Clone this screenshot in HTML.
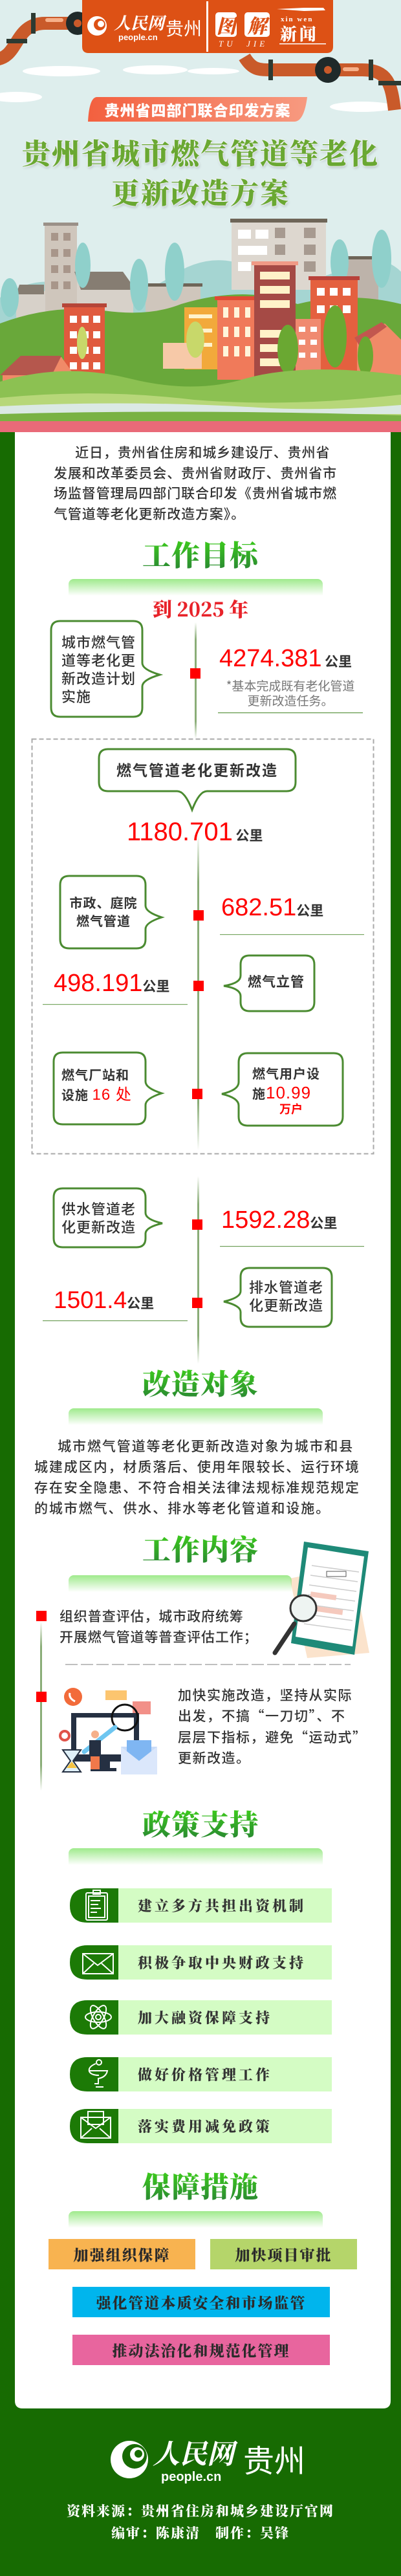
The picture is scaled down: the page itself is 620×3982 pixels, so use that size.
<!DOCTYPE html>
<html><head><meta charset="utf-8">
<style>
*{margin:0;padding:0;box-sizing:border-box}
body{width:620px;height:3982px;overflow:hidden;position:relative;background:#176b02;font-family:"Liberation Sans","Noto Sans CJK SC",sans-serif}
.a{position:absolute;white-space:nowrap}
.t{font-family:"Noto Sans CJK SC",sans-serif;color:#333;font-weight:500}
.h{font-family:"Noto Serif CJK SC",serif;font-weight:900;font-size:44px;letter-spacing:1px;width:620px;left:0;text-align:center;line-height:50px;background:linear-gradient(#3fd21a,#2a8a32);-webkit-background-clip:text;background-clip:text;color:transparent}
.gb{position:absolute;left:106px;width:393px;height:26px;border-radius:8px 8px 0 0;background:linear-gradient(#9fea8c,rgba(255,255,255,0))}
.n{font-family:"Liberation Sans",sans-serif;color:#f00;font-size:38px}
.km{font-family:"Noto Sans CJK SC",sans-serif;color:#333;font-size:21px;font-weight:700}
.bt{font-family:"Noto Sans CJK SC",sans-serif;color:#333;font-size:21px;font-weight:500;line-height:28px}
.pl{font-family:"Noto Serif CJK SC",serif;font-weight:900;font-size:22px;letter-spacing:4px;color:#333;line-height:53px}
.bx{position:absolute;font-family:"Noto Serif CJK SC",serif;font-weight:900;font-size:23px;letter-spacing:2px;color:#2b2b2b;text-align:center}
</style></head><body>

<svg class="a" style="left:0;top:0" width="620" height="3982" viewBox="0 0 620 3982">
<defs>
<linearGradient id="vl" x1="0" y1="0" x2="0" y2="1"><stop offset="0" stop-color="#8aad77" stop-opacity="0"/><stop offset=".15" stop-color="#8aad77"/><stop offset=".85" stop-color="#8aad77"/><stop offset="1" stop-color="#8aad77" stop-opacity="0"/></linearGradient>
<linearGradient id="pill" x1="0" y1="0" x2="1" y2="0"><stop offset="0" stop-color="#f3603f"/><stop offset="1" stop-color="#f79a80"/></linearGradient>
</defs>
<!-- header background -->
<rect x="0" y="0" width="620" height="651" fill="#deeeed"/>
<g fill="#fff">
<ellipse cx="95" cy="110" rx="60" ry="8"/><ellipse cx="240" cy="108" rx="50" ry="7"/><ellipse cx="330" cy="110" rx="40" ry="5"/>
<ellipse cx="25" cy="150" rx="40" ry="8"/><ellipse cx="560" cy="165" rx="50" ry="8"/>
</g>
<!-- pipes -->
<g fill="none" stroke="#c95a2a" stroke-width="20">
<path d="M-10,92 C30,92 20,36 70,36 L130,36"/>
<path d="M378,88 C390,108 400,108 420,108 L560,108 C600,108 605,130 610,170"/>
</g>
<g fill="#2d3a32"><rect x="48" y="20" width="7" height="32"/><rect x="10" y="60" width="32" height="7"/><rect x="415" y="92" width="7" height="32"/><rect x="570" y="92" width="7" height="32"/><rect x="585" y="125" width="35" height="7"/></g>
<circle cx="120" cy="36" r="18" fill="#1f2a2a"/><circle cx="120" cy="36" r="6" fill="#c95a2a"/>
<circle cx="507" cy="108" r="20" fill="#1f2a2a"/><circle cx="507" cy="108" r="6" fill="#c95a2a"/>
<rect x="530" y="104" width="25" height="6" fill="#f6b08a" rx="3"/><rect x="70" y="28" width="28" height="6" fill="#f6b08a" rx="3"/>
<!-- banner -->
<path d="M127,0 H515 V72 Q515,82 505,82 H137 Q127,82 127,72Z" fill="#dd5115"/>
<circle cx="150" cy="40" r="15" fill="#fff"/><circle cx="154" cy="38" r="9" fill="#dd5115"/><circle cx="156" cy="37" r="5" fill="#fff"/>
<rect x="319" y="2" width="3" height="78" fill="#fff"/>
<rect x="333" y="19" width="33" height="38" rx="5" fill="#fff"/><rect x="378" y="19" width="39" height="38" rx="5" fill="#fff"/>
<rect x="432" y="67" width="72" height="1.5" fill="#fff"/>
<path d="M428,14 L470,12 L500,12 L503,16 L470,17Z" fill="#fff"/>
<!-- subtitle pill -->
<path d="M150,150 H475 Q470,188 455,188 H136 Q138,150 150,150Z" fill="url(#pill)"/>
<!-- city -->
<g>
<path d="M0,460 Q60,420 120,445 Q200,470 260,430 Q330,380 400,420 Q470,450 540,410 Q590,390 620,420 V651 H0Z" fill="#7ec5bf" opacity=".6"/>
<rect x="69" y="348" width="50" height="160" fill="#cfc6bc"/><rect x="67" y="344" width="54" height="5" fill="#9a9088"/>
<g fill="#a8968a"><rect x="79" y="360" width="11" height="12"/><rect x="98" y="360" width="11" height="12"/><rect x="79" y="385" width="11" height="12"/><rect x="98" y="385" width="11" height="12"/><rect x="79" y="410" width="11" height="12"/><rect x="98" y="410" width="11" height="12"/><rect x="79" y="435" width="11" height="12"/><rect x="98" y="435" width="11" height="12"/></g>
<rect x="358" y="343" width="146" height="105" fill="#ddd7cf"/><rect x="356" y="338" width="150" height="6" fill="#6e6558"/>
<g fill="#a79a90"><rect x="425" y="352" width="16" height="16"/><rect x="470" y="352" width="18" height="16"/><rect x="425" y="378" width="16" height="16"/><rect x="470" y="378" width="18" height="16"/><rect x="470" y="404" width="18" height="16"/></g>
<g fill="#fff"><rect x="368" y="355" width="20" height="14"/><rect x="395" y="355" width="20" height="14"/><rect x="368" y="380" width="45" height="14"/><rect x="368" y="405" width="20" height="14"/></g>
<rect x="526" y="400" width="59" height="70" fill="#bdb3aa"/><rect x="524" y="396" width="63" height="5" fill="#6e6558"/>
<path d="M119,420 H190 L206,445 V495 H119Z" fill="#d7d1c9"/><path d="M115,420 H190 L210,448 H125Z" fill="#867d72"/>
<path d="M25,450 H70 V500 H25Z" fill="#d7d1c9"/><path d="M30,440 H68 V455 H25Z" fill="#867d72"/>
<rect x="225" y="442" width="85" height="40" fill="#cfc6bc"/><rect x="223" y="438" width="90" height="5" fill="#6e6558"/>
<path d="M0,500 Q80,470 160,480 Q230,490 280,470 Q380,440 460,470 Q540,450 620,470 V651 H0Z" fill="#69a83a"/>
<g fill="#8fd0cb"><ellipse cx="15" cy="460" rx="14" ry="30"/><ellipse cx="128" cy="410" rx="12" ry="35"/><ellipse cx="215" cy="440" rx="14" ry="40"/><ellipse cx="270" cy="420" rx="15" ry="45"/><ellipse cx="590" cy="400" rx="15" ry="45"/><ellipse cx="525" cy="405" rx="14" ry="35"/></g>
<rect x="285" y="475" width="51" height="96" fill="#f2a93b"/><g fill="#fff2cc"><rect x="292" y="486" width="36" height="6"/><rect x="292" y="508" width="36" height="6"/><rect x="292" y="530" width="36" height="6"/></g>
<rect x="336" y="462" width="59" height="125" fill="#f07a5a"/><rect x="332" y="458" width="66" height="6" fill="#e04a35"/>
<g fill="#fff5da"><rect x="345" y="475" width="8" height="16"/><rect x="362" y="475" width="8" height="16"/><rect x="379" y="475" width="8" height="16"/><rect x="345" y="505" width="8" height="16"/><rect x="362" y="505" width="8" height="16"/><rect x="379" y="505" width="8" height="16"/><rect x="345" y="535" width="8" height="16"/><rect x="362" y="535" width="8" height="16"/><rect x="379" y="535" width="8" height="16"/></g>
<rect x="393" y="408" width="64" height="180" fill="#a54a45"/><rect x="389" y="404" width="72" height="6" fill="#f09a86"/>
<g fill="#fff2c8"><rect x="402" y="420" width="46" height="12"/><rect x="402" y="442" width="46" height="12"/><rect x="402" y="464" width="46" height="12"/><rect x="402" y="510" width="46" height="12"/><rect x="402" y="532" width="46" height="12"/><rect x="402" y="554" width="46" height="12"/></g>
<rect x="480" y="431" width="73" height="170" fill="#e4603f"/><rect x="477" y="427" width="79" height="6" fill="#b8413a"/>
<g fill="#fff"><rect x="490" y="445" width="12" height="12"/><rect x="510" y="445" width="12" height="12"/><rect x="530" y="445" width="12" height="12"/><rect x="490" y="472" width="12" height="12"/><rect x="510" y="472" width="12" height="12"/><rect x="530" y="472" width="12" height="12"/></g>
<rect x="457" y="493" width="39" height="110" fill="#f08a70"/>
<g fill="#fff"><rect x="462" y="505" width="10" height="8"/><rect x="480" y="505" width="10" height="8"/><rect x="462" y="525" width="10" height="8"/><rect x="480" y="525" width="10" height="8"/><rect x="462" y="545" width="10" height="8"/><rect x="480" y="545" width="10" height="8"/></g>
<path d="M552,520 L595,500 L620,525 V594 H552Z" fill="#f08a68"/><path d="M548,522 L590,498 L598,505 L556,535Z" fill="#c2574f"/>
<rect x="99" y="473" width="63" height="145" fill="#e05a3e"/><rect x="96" y="469" width="69" height="6" fill="#b54538"/>
<g fill="#fff"><rect x="108" y="488" width="11" height="11"/><rect x="126" y="488" width="11" height="11"/><rect x="144" y="488" width="11" height="11"/><rect x="108" y="512" width="11" height="11"/><rect x="126" y="512" width="11" height="11"/><rect x="144" y="512" width="11" height="11"/><rect x="108" y="536" width="11" height="11"/><rect x="126" y="536" width="11" height="11"/><rect x="144" y="536" width="11" height="11"/><rect x="108" y="560" width="11" height="11"/><rect x="126" y="560" width="11" height="11"/><rect x="144" y="560" width="11" height="11"/></g>
<path d="M4,580 L35,552 H95 L115,580 V612 H4Z" fill="#f08a68"/><path d="M0,580 L32,550 H95 L80,580Z" fill="#b5574d"/>
<rect x="252" y="530" width="60" height="40" fill="#f7c9a8"/>
<g fill="#6aa832"><ellipse cx="445" cy="540" rx="16" ry="38"/><ellipse cx="518" cy="520" rx="18" ry="48"/><ellipse cx="565" cy="550" rx="12" ry="30"/><ellipse cx="302" cy="525" rx="14" ry="28" fill="#c8d86a"/><ellipse cx="127" cy="530" rx="8" ry="25" fill="#c8d86a"/></g>
<path d="M0,590 Q100,560 200,585 Q300,610 380,585 Q470,560 620,580 V651 H0Z" fill="#8cc152"/>
<path d="M0,615 Q150,600 300,618 Q450,630 620,610 V651 H0Z" fill="#b7d779"/>
<path d="M0,628 Q200,618 400,630 Q500,636 620,626 V640 H0Z" fill="#dbe9e4"/>
<path d="M0,640 Q300,632 620,642 V651 H0Z" fill="#79b243"/>
</g>
<!-- pink strip -->
<rect x="0" y="651" width="620" height="17" fill="#e96a78"/>
<!-- white panel -->
<path d="M23,668 H604 V3711 Q604,3723 592,3723 H35 Q23,3723 23,3711Z" fill="#fff"/>

<!-- goals -->
<rect x="301" y="962" width="3" height="180" fill="url(#vl)"/>
<rect x="294" y="1033" width="16" height="16" fill="#f00"/>
<rect x="337" y="1101" width="224" height="1.5" fill="#7aa864"/>
<path d="M93,960 H206 Q220,960 220,974 V1025 Q220,1035 247,1043 Q220,1051 220,1061 V1094 Q220,1108 206,1108 H93 Q79,1108 79,1094 V974 Q79,960 93,960Z" fill="#fff" stroke="#4b8b31" stroke-width="3"/>
<rect x="49.5" y="1142.5" width="528" height="641" fill="none" stroke="#aaa" stroke-width="2" stroke-dasharray="7,4"/>
<rect x="305" y="1290" width="3" height="488" fill="url(#vl)"/>
<path d="M167,1158 H443 Q457,1158 457,1172 V1209 Q457,1223 443,1223 H320 Q308,1223 297,1252 Q286,1223 274,1223 H167 Q153,1223 153,1209 V1172 Q153,1158 167,1158Z" fill="#fff" stroke="#4b8b31" stroke-width="3"/>
<path d="M107,1354 H211 Q225,1354 225,1368 V1400 Q225,1410 250,1418 Q225,1426 225,1436 V1452 Q225,1466 211,1466 H107 Q93,1466 93,1452 V1368 Q93,1354 107,1354Z" fill="#fff" stroke="#4b8b31" stroke-width="3"/>
<path d="M386,1477 H472 Q486,1477 486,1491 V1549 Q486,1563 472,1563 H386 Q372,1563 372,1549 V1540 Q372,1528 346,1524 Q372,1520 372,1508 V1491 Q372,1477 386,1477Z" fill="#fff" stroke="#4b8b31" stroke-width="3"/>
<path d="M97,1627 H211 Q225,1627 225,1641 V1672 Q225,1682 250,1690 Q225,1698 225,1708 V1724 Q225,1738 211,1738 H97 Q83,1738 83,1724 V1641 Q83,1627 97,1627Z" fill="#fff" stroke="#4b8b31" stroke-width="3"/>
<path d="M383,1628 H516 Q530,1628 530,1642 V1726 Q530,1740 516,1740 H383 Q369,1740 369,1726 V1709 Q369,1697 343,1691 Q369,1685 369,1673 V1642 Q369,1628 383,1628Z" fill="#fff" stroke="#4b8b31" stroke-width="3"/>
<rect x="299" y="1407" width="16" height="16" fill="#f00"/>
<rect x="299" y="1516" width="16" height="16" fill="#f00"/>
<rect x="297" y="1683" width="16" height="16" fill="#f00"/>
<rect x="340" y="1444" width="223" height="1.2" fill="#7aa864"/>
<rect x="66" y="1552" width="224" height="1.2" fill="#7aa864"/>
<rect x="305" y="1818" width="3" height="290" fill="url(#vl)"/>
<path d="M97,1837 H211 Q225,1837 225,1851 V1875 Q225,1885 251,1891 Q225,1897 225,1907 V1914 Q225,1928 211,1928 H97 Q83,1928 83,1914 V1851 Q83,1837 97,1837Z" fill="#fff" stroke="#4b8b31" stroke-width="3"/>
<path d="M386,1960 H499 Q513,1960 513,1974 V2037 Q513,2051 499,2051 H386 Q372,2051 372,2037 V2028 Q372,2018 346,2012 Q372,2006 372,1996 V1974 Q372,1960 386,1960Z" fill="#fff" stroke="#4b8b31" stroke-width="3"/>
<rect x="297" y="1885" width="16" height="16" fill="#f00"/>
<rect x="297" y="2006" width="16" height="16" fill="#f00"/>
<rect x="340" y="1926" width="223" height="1.2" fill="#6f9f58"/>
<rect x="66" y="2041" width="224" height="1.2" fill="#6f9f58"/>

<!-- work content -->
<rect x="62" y="2506" width="3" height="262" fill="url(#vl)"/>
<rect x="56" y="2490" width="16" height="16" fill="#f00"/>
<rect x="56" y="2615" width="16" height="16" fill="#f00"/>
<line x1="101" y1="2573" x2="542" y2="2573" stroke="#999" stroke-width="1.2" stroke-dasharray="19,5"/>
<!-- clipboard -->
<path d="M448,2440 L545,2420 L571,2555 L475,2563Z" fill="#fbe3cc"/>
<path d="M470,2423 L570,2438 L548,2598 L450,2580Z" fill="#1e8a78" transform="translate(0,-40)"/>
<path d="M476,2432 L563,2446 L545,2585 L457,2570Z" fill="#fff" transform="translate(0,-40)"/>
<g stroke="#ccc" stroke-width="1.5" transform="translate(0,-40)"><line x1="482" y1="2460" x2="555" y2="2470"/><line x1="480" y1="2475" x2="553" y2="2485"/><line x1="478" y1="2490" x2="551" y2="2500"/><line x1="476" y1="2505" x2="549" y2="2515"/><line x1="474" y1="2520" x2="547" y2="2530"/><line x1="472" y1="2535" x2="545" y2="2545"/><line x1="470" y1="2550" x2="543" y2="2560"/></g>
<rect x="480" y="2463" width="40" height="8" fill="#f5c9bd" transform="rotate(8 500 2467)"/>
<rect x="485" y="2485" width="45" height="8" fill="#f5c9bd" transform="rotate(8 505 2489)"/>
<rect x="505" y="2429" width="30" height="8" fill="#fff" stroke="#555" stroke-width="1"/>
<line x1="455" y1="2510" x2="425" y2="2555" stroke="#333" stroke-width="7" stroke-linecap="round"/>
<circle cx="469" cy="2486" r="20" fill="#eef4f2" stroke="#333" stroke-width="3"/>
<!-- illustration 2 -->
<circle cx="113" cy="2623" r="14" fill="#f26b3a"/><path d="M108,2617 q-2,8 8,13" stroke="#fff" stroke-width="3" fill="none"/>
<rect x="163" y="2613" width="33" height="15" fill="#fcc56f"/>
<path d="M205,2630 h28 v20 h-28z" fill="#f29088"/>
<rect x="110" y="2648" width="105" height="75" fill="#253042"/><rect x="118" y="2655" width="89" height="57" fill="#fff"/>
<rect x="150" y="2723" width="20" height="12" fill="#253042"/><rect x="140" y="2733" width="40" height="5" fill="#253042"/>
<circle cx="193" cy="2655" r="20" fill="none" stroke="#111" stroke-width="3"/>
<line x1="178" y1="2670" x2="130" y2="2708" stroke="#6ec6f0" stroke-width="7" stroke-linecap="round"/>
<rect x="138" y="2690" width="18" height="25" fill="#253042"/><rect x="140" y="2715" width="14" height="20" fill="#f0784a"/><circle cx="147" cy="2681" r="6" fill="#f5b08a"/>
<path d="M97,2705 h28 l-12,17 l12,17 h-28 l12,-17z" fill="#dff0f8" stroke="#253042" stroke-width="2"/><path d="M103,2733 l8,-10 l8,10z" fill="#f5c342"/>
<rect x="187" y="2700" width="56" height="43" fill="#c9dcf8"/><rect x="196" y="2690" width="38" height="35" fill="#7fb6f2"/><path d="M187,2700 l28,22 l28,-22 v43 h-56z" fill="#dbe7fb"/>
<circle cx="100" cy="2683" r="7" fill="none" stroke="#e0534a" stroke-width="4"/>
<!-- policy items -->
<g>
<path d="M135,2919 H183 V2972 H135 Q108,2972 108,2945.5 Q108,2919 135,2919Z" fill="#1c7a06"/><rect x="183" y="2919" width="330" height="53" fill="#d4fcc4"/>
<path d="M135,3007 H183 V3060 H135 Q108,3060 108,3033.5 Q108,3007 135,3007Z" fill="#1c7a06"/><rect x="183" y="3007" width="330" height="53" fill="#d4fcc4"/>
<path d="M135,3092 H183 V3145 H135 Q108,3145 108,3118.5 Q108,3092 135,3092Z" fill="#1c7a06"/><rect x="183" y="3092" width="330" height="53" fill="#d4fcc4"/>
<path d="M135,3180 H183 V3233 H135 Q108,3233 108,3206.5 Q108,3180 135,3180Z" fill="#1c7a06"/><rect x="183" y="3180" width="330" height="53" fill="#d4fcc4"/>
<path d="M135,3260 H183 V3313 H135 Q108,3313 108,3286.5 Q108,3260 135,3260Z" fill="#1c7a06"/><rect x="183" y="3260" width="330" height="53" fill="#d4fcc4"/>
</g>
<g fill="none" stroke="#fff" stroke-width="2">
<rect x="133" y="2926" width="33" height="42" rx="2"/><rect x="137" y="2931" width="25" height="33"/><rect x="144" y="2922" width="11" height="6"/>
<line x1="140" y1="2938" x2="155" y2="2938"/><line x1="140" y1="2944" x2="152" y2="2944"/><line x1="140" y1="2950" x2="156" y2="2950"/><line x1="140" y1="2956" x2="150" y2="2956"/>
<rect x="128" y="3020" width="47" height="31"/><path d="M128,3020 L151,3038 L175,3020 M128,3051 L145,3035 M175,3051 L157,3035"/>
<ellipse cx="152" cy="3118" rx="20" ry="8"/><ellipse cx="152" cy="3118" rx="20" ry="8" transform="rotate(60 152 3118)"/><ellipse cx="152" cy="3118" rx="20" ry="8" transform="rotate(-60 152 3118)"/><circle cx="152" cy="3118" r="4"/>
<circle cx="153" cy="3188" r="4"/><path d="M148,3190 q-12,5 -10,12 q3,6 15,6 M138,3201 h28 q-2,10 -14,12 v8 h-6 M148,3226 h12"/>
<rect x="125" y="3273" width="46" height="32"/><rect x="136" y="3264" width="24" height="20"/><path d="M125,3273 L148,3290 L171,3273 M125,3305 L142,3290 M171,3305 L154,3290"/>
</g>
<!-- measures -->
<rect x="75" y="3461" width="227" height="47" fill="#f8b350"/>
<rect x="325" y="3461" width="227" height="47" fill="#b5d56a"/>
<rect x="112" y="3535" width="398" height="47" fill="#00b5ed"/>
<rect x="112" y="3609" width="398" height="47" fill="#e8659e"/>
<!-- footer logo -->
<circle cx="200" cy="3802" r="29" fill="#fff"/><circle cx="208" cy="3797" r="19" fill="#176b02"/><circle cx="212" cy="3794" r="11" fill="#fff"/><circle cx="214" cy="3793" r="6" fill="#176b02"/>
</svg>

<!-- header text -->
<div class="a" style="left:176px;top:22px;font-family:'Liberation Serif','Noto Serif CJK SC',serif;font-style:italic;font-weight:700;color:#fff;font-size:26px;line-height:30px">人民网</div>
<div class="a" style="left:183px;top:50px;color:#fff;font-size:13px;font-weight:700;line-height:15px">people.cn</div>
<div class="a" style="left:256px;top:25px;color:#fff;font-family:'Noto Sans CJK SC',sans-serif;font-size:28px;line-height:36px">贵州</div>
<div class="a" style="left:333px;top:18px;width:33px;text-align:center;color:#dd5115;font-family:'Noto Serif CJK SC',serif;font-weight:900;font-style:italic;font-size:30px;line-height:40px">图</div>
<div class="a" style="left:378px;top:18px;width:39px;text-align:center;color:#dd5115;font-family:'Noto Serif CJK SC',serif;font-weight:900;font-style:italic;font-size:30px;line-height:40px">解</div>
<div class="a" style="left:338px;top:60px;color:#fff;font-family:'Liberation Serif',serif;font-style:italic;font-size:13px;letter-spacing:5px;line-height:16px">TU&nbsp;&nbsp;JIE</div>
<div class="a" style="left:434px;top:23px;color:#fff;font-family:'Liberation Serif',serif;font-weight:700;font-size:11px;letter-spacing:2px;line-height:14px">xin wen</div>
<div class="a" style="left:433px;top:36px;color:#fff;font-family:'Noto Serif CJK SC',serif;font-weight:900;font-size:26px;letter-spacing:4px;line-height:32px">新闻</div>
<div class="a" style="left:136px;top:152px;width:339px;text-align:center;color:#fff;font-family:'Noto Sans CJK SC',sans-serif;font-weight:900;font-size:23px;letter-spacing:1px;line-height:34px">贵州省四部门联合印发方案</div>
<div class="a" style="left:0;width:620px;text-align:center;top:206px;font-family:'Noto Serif CJK SC',serif;font-weight:900;font-size:44px;letter-spacing:2px;line-height:56px;color:#6aa832;-webkit-text-stroke:0;text-shadow:0 0 2px #fff,0 0 3px #fff,1px 2px 4px rgba(0,0,0,.25)">贵州省城市燃气管道等老化</div>
<div class="a" style="left:0;width:620px;text-align:center;top:267px;font-family:'Noto Serif CJK SC',serif;font-weight:900;font-size:44px;letter-spacing:2px;line-height:56px;color:#6aa832;text-shadow:0 0 2px #fff,0 0 3px #fff,1px 2px 4px rgba(0,0,0,.25)">更新改造方案</div>

<!-- intro -->
<div class="a t" style="left:83px;top:684px;font-size:21px;letter-spacing:0.9px;line-height:31.7px">　&nbsp;&nbsp;近日，贵州省住房和城乡建设厅、贵州省<br>发展和改革委员会、贵州省财政厅、贵州省市<br>场监督管理局四部门联合印发《贵州省城市燃<br>气管道等老化更新改造方案》。</div>

<div class="a h" style="top:830px">工作目标</div>
<div class="gb" style="top:895px"></div>
<div class="a" style="left:0;width:620px;text-align:center;top:920px;font-family:'Noto Serif CJK SC',serif;font-weight:900;font-size:30px;line-height:40px;color:#e8232a">到 2025 年</div>

<div class="a bt" style="left:95px;top:978px;font-size:22px;letter-spacing:1px">城市燃气管<br>道等老化更<br>新改造计划<br>实施</div>
<div class="a" style="left:339px;top:996px;line-height:44px"><span class="n">4274.381</span> <span class="km">公里</span></div>
<div class="a" style="left:337px;top:1048px;width:224px;text-align:center;font-family:'Noto Sans CJK SC',sans-serif;color:#777;font-size:19px;line-height:23px">*基本完成既有老化管道<br>更新改造任务。</div>

<div class="a" style="left:153px;top:1172px;width:304px;text-align:center;font-family:'Noto Sans CJK SC',sans-serif;font-weight:700;color:#333;font-size:23px;letter-spacing:2px;line-height:34px">燃气管道老化更新改造</div>
<div class="a" style="left:196px;top:1263px;line-height:46px"><span class="n" style="font-size:40px">1180.701</span> <span class="km">公里</span></div>
<div class="a bt" style="left:98px;top:1381px;text-align:center;width:124px;font-weight:700;font-size:20px;letter-spacing:1px">市政、庭院<br>燃气管道</div>
<div class="a" style="left:342px;top:1380px;line-height:46px"><span class="n">682.51</span><span class="km">公里</span></div>
<div class="a" style="left:83px;top:1497px;line-height:46px"><span class="n">498.191</span><span class="km">公里</span></div>
<div class="a bt" style="left:383px;top:1503px;font-weight:700;font-size:21px;letter-spacing:1px">燃气立管</div>
<div class="a bt" style="left:95px;top:1645px;font-weight:700;font-size:20px;letter-spacing:1px;line-height:31px">燃气厂站和<br>设施 <span style="color:#f00;font-family:'Liberation Sans','Noto Sans CJK SC',sans-serif;font-size:24px;font-weight:400">16 处</span></div>
<div class="a bt" style="left:390px;top:1644px;font-weight:700;font-size:20px;letter-spacing:1px;line-height:30px">燃气用户设<br>施<span style="color:#f00;font-family:'Liberation Sans',sans-serif;font-size:26px;font-weight:400">10.99</span></div>
<div class="a" style="left:432px;top:1702px;color:#f00;font-family:'Noto Sans CJK SC',sans-serif;font-size:18px;font-weight:700;line-height:24px">万户</div>

<div class="a bt" style="left:95px;top:1854px;font-size:22px;letter-spacing:1px">供水管道老<br>化更新改造</div>
<div class="a" style="left:342px;top:1863px;line-height:46px"><span class="n">1592.28</span><span class="km">公里</span></div>
<div class="a bt" style="left:385px;top:1975px;font-size:22px;letter-spacing:1px">排水管道老<br>化更新改造</div>
<div class="a" style="left:83px;top:1987px;line-height:46px"><span class="n" style="font-size:37px">1501.4</span><span class="km">公里</span></div>

<div class="a h" style="top:2111px">改造对象</div>
<div class="gb" style="top:2177px"></div>
<div class="a t" style="left:53px;top:2219px;font-size:21px;letter-spacing:1.9px;line-height:32px">　&nbsp;&nbsp;城市燃气管道等老化更新改造对象为城市和县<br>城建成区内，材质落后、使用年限较长、运行环境<br>存在安全隐患、不符合相关法律法规标准规范规定<br>的城市燃气、供水、排水等老化管道和设施。</div>

<div class="a h" style="top:2367px">工作内容</div>
<div class="gb" style="top:2435px;width:345px"></div>
<div class="a t" style="left:92px;top:2482px;font-size:21px;letter-spacing:0.9px;line-height:32px">组织普查评估，城市政府统筹<br>开展燃气管道等普查评估工作；</div>
<div class="a t" style="left:275px;top:2604px;font-size:21px;letter-spacing:1.5px;line-height:32.3px">加快实施改造，坚持从实际<br>出发，不搞“一刀切”、不<br>层层下指标，避免“运动式”<br>更新改造。</div>

<div class="a h" style="top:2792px">政策支持</div>
<div class="gb" style="top:2857px"></div>
<div class="a pl" style="left:213px;top:2919px">建立多方共担出资机制</div>
<div class="a pl" style="left:213px;top:3007px">积极争取中央财政支持</div>
<div class="a pl" style="left:213px;top:3092px">加大融资保障支持</div>
<div class="a pl" style="left:213px;top:3180px">做好价格管理工作</div>
<div class="a pl" style="left:213px;top:3260px">落实费用减免政策</div>

<div class="a h" style="top:3352px">保障措施</div>
<div class="gb" style="top:3418px"></div>
<div class="bx" style="left:75px;top:3461px;width:227px;line-height:47px">加强组织保障</div>
<div class="bx" style="left:325px;top:3461px;width:227px;line-height:47px">加快项目审批</div>
<div class="bx" style="left:112px;top:3535px;width:398px;line-height:47px">强化管道本质安全和市场监管</div>
<div class="bx" style="left:112px;top:3609px;width:398px;line-height:47px">推动法治化和规范化管理</div>

<!-- footer -->
<div class="a" style="left:236px;top:3770px;font-family:'Liberation Serif','Noto Serif CJK SC',serif;font-style:italic;font-weight:700;color:#fff;font-size:42px;line-height:50px">人民网</div>
<div class="a" style="left:249px;top:3818px;color:#fff;font-size:20px;font-weight:700;line-height:22px">people.cn</div>
<div class="a" style="left:376px;top:3770px;color:#fff;font-family:'Noto Sans CJK SC',sans-serif;font-size:48px;line-height:60px">贵州</div>
<div class="a" style="left:0;width:620px;text-align:center;top:3866px;color:#fff;font-family:'Noto Serif CJK SC',serif;font-weight:900;font-size:21px;letter-spacing:2px;line-height:30px">资料来源：贵州省住房和城乡建设厅官网</div>
<div class="a" style="left:0;width:620px;text-align:center;top:3900px;color:#fff;font-family:'Noto Serif CJK SC',serif;font-weight:900;font-size:21px;letter-spacing:2px;line-height:30px">编审：陈康清　制作：吴锋</div>
</body></html>
